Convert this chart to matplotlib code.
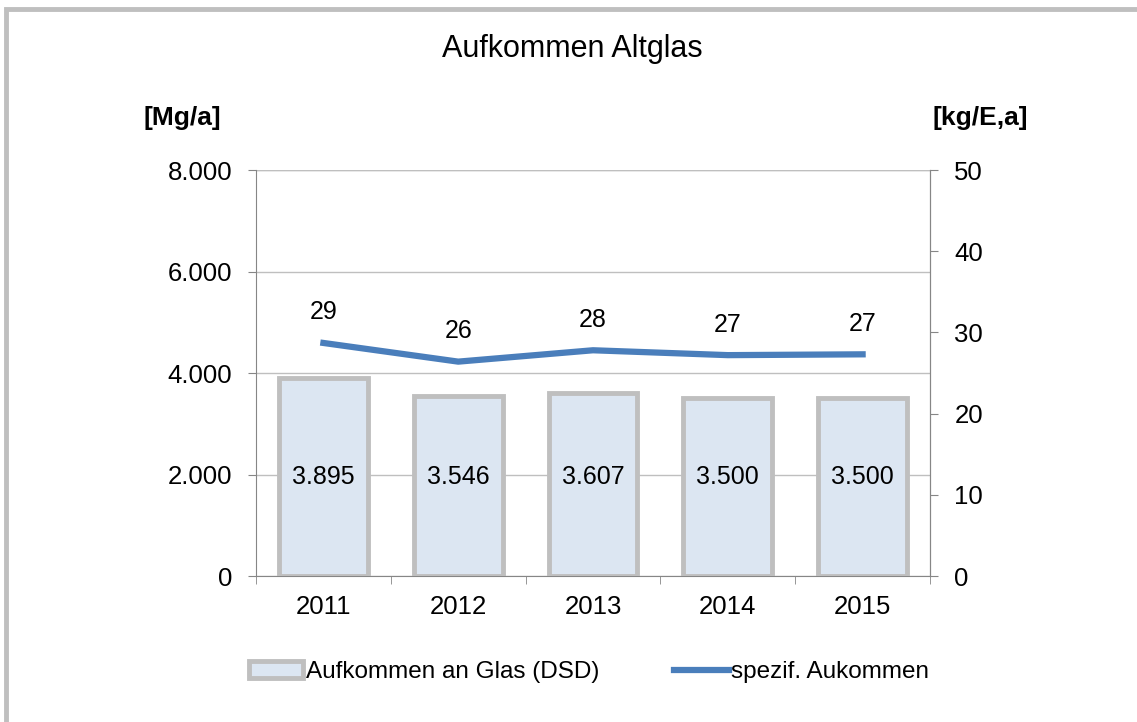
import matplotlib
matplotlib.use("Agg")
import matplotlib.pyplot as plt
from matplotlib.patches import Rectangle

plt.rcParams['font.family'] = ['Liberation Sans', 'DejaVu Sans']

years = ["2011", "2012", "2013", "2014", "2015"]
aufkommen = [3895, 3546, 3607, 3500, 3500]
aufkommen_labels = ["3.895", "3.546", "3.607", "3.500", "3.500"]
spezif = [28.7, 26.4, 27.8, 27.2, 27.3]
spezif_labels = ["29", "26", "28", "27", "27"]
left_ticks = [0, 2000, 4000, 6000, 8000]
left_ticklabels = ["0", "2.000", "4.000", "6.000", "8.000"]
right_ticks = [0, 10, 20, 30, 40, 50]

W, H = 1137, 722
fig = plt.figure(figsize=(W / 100, H / 100), dpi=100)
fig.patches.append(Rectangle((6 / W, -0.1), 1.2, 1 - 9 / H + 0.1, transform=fig.transFigure,
                             fill=False, edgecolor="#BFBFBF", linewidth=3.5))

ax = fig.add_axes([256 / W, 1 - 576 / H, (930 - 256) / W, (576 - 170) / H])
x = list(range(len(years)))
ax.bar(x, aufkommen, width=0.66, color="#DCE6F2", edgecolor="#BFBFBF", linewidth=3.5, zorder=3,
       label="Aufkommen an Glas (DSD)")
for xi, v, lab in zip(x, aufkommen, aufkommen_labels):
    ax.text(xi, 1950, lab, ha="center", va="center", fontsize=18, color="black", zorder=5)

ax.set_xlim(-0.5, len(years) - 0.5)
ax.set_ylim(0, 8000)
ax.set_yticks(left_ticks)
ax.set_yticklabels(left_ticklabels, fontsize=18.5)
ax.set_xticks(x)
ax.set_xticklabels(years, fontsize=18.5)
ax.set_xticks([i + 0.5 for i in range(-1, len(years))], minor=True)
ax.tick_params(axis="x", which="major", length=0, pad=14)
ax.tick_params(axis="x", which="minor", length=5.5, color="#868686")
ax.tick_params(axis="y", length=6, color="#868686", pad=11)
ax.grid(axis="y", color="#BFBFBF", linewidth=1, zorder=0)
ax.spines["top"].set_visible(False)
for s in ["left", "bottom", "right"]:
    ax.spines[s].set_color("#868686")
ax.axhline(8000, color="#BFBFBF", linewidth=1, zorder=0)

ax2 = ax.twinx()
ax2.plot(x, spezif, color="#4A7EBB", linewidth=4.5, zorder=4, label="spezif. Aukommen")
for xi, v, lab in zip(x, spezif, spezif_labels):
    ax2.annotate(lab, (xi, v), xytext=(0, 22), textcoords="offset points", ha="center", va="center",
                 fontsize=18, color="black")
ax2.set_ylim(0, 50)
ax2.set_yticks(right_ticks)
ax2.set_yticklabels([str(t) for t in right_ticks], fontsize=18.5)
ax2.tick_params(axis="y", length=5.5, color="#868686", pad=12)
for s in ["top", "left", "bottom"]:
    ax2.spines[s].set_visible(False)
ax2.spines["right"].set_color("#868686")

fig.text(572 / W, 1 - 49 / H, "Aufkommen Altglas", ha="center", va="center", fontsize=22)
fig.text(182 / W, 1 - 118 / H, "[Mg/a]", ha="center", va="center", fontsize=19, fontweight="bold")
fig.text(980 / W, 1 - 118 / H, "[kg/E,a]", ha="center", va="center", fontsize=19, fontweight="bold")

h1, l1 = ax.get_legend_handles_labels()
h2, l2 = ax2.get_legend_handles_labels()
fig.legend(h1 + h2, l1 + l2, loc="center", bbox_to_anchor=(589 / W, 1 - 672 / H), ncol=2, frameon=False,
           fontsize=17.5, handlelength=2.25, handletextpad=0.1, columnspacing=3.1, handleheight=0.7)

fig.savefig("out.png", dpi=100)
